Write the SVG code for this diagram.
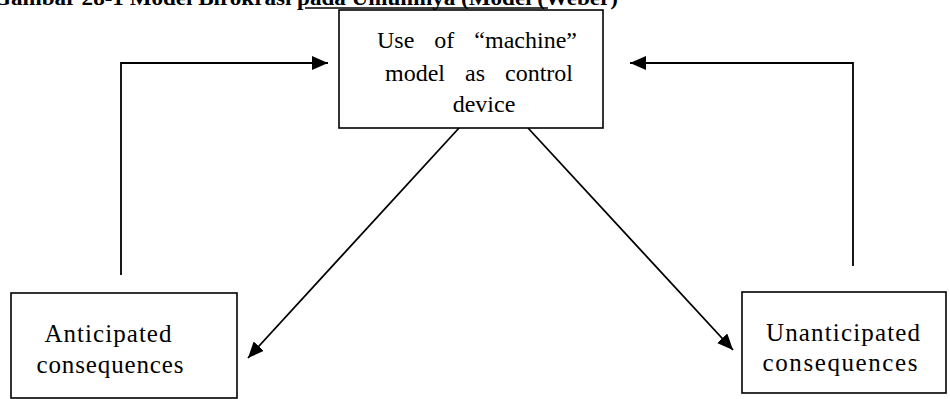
<svg xmlns="http://www.w3.org/2000/svg" width="950" height="399" viewBox="0 0 950 399">
<style>
.box{fill:#fff;stroke:#000;stroke-width:1.6}
.lbl{font-family:"Liberation Serif","Times New Roman",serif;font-size:24px;fill:#000;text-anchor:middle;word-spacing:14px}
.lbl2{font-family:"Liberation Serif","Times New Roman",serif;font-size:25px;fill:#000;text-anchor:middle}
.title{font-family:"Liberation Serif","Times New Roman",serif;font-size:21px;font-weight:bold;fill:#000}
.conn{fill:none;stroke:#000;stroke-width:1.8}
</style>
<defs>
<marker id="ah" viewBox="0 0 16 14" refX="16" refY="7" markerWidth="16" markerHeight="14" markerUnits="userSpaceOnUse" orient="auto">
<path d="M0,0 L16,7 L0,14 Z" fill="#000"/>
</marker>
</defs>
<rect width="950" height="399" fill="#fff"/>
<g id="title">
<text class="title" x="-7" y="5" textLength="625" lengthAdjust="spacingAndGlyphs">Gambar 28-1 Model Birokrasi pada Umumnya (Model (Weber)</text>
<line x1="305" y1="8" x2="548" y2="8" stroke="#000" stroke-width="1.5"/>
</g>
<g id="connectors">
<polyline class="conn" points="121,275 121,63 328,63" marker-end="url(#ah)"/>
<polyline class="conn" points="853,266 853,63 630,63" marker-end="url(#ah)"/>
<line class="conn" x1="459" y1="128" x2="248" y2="358" marker-end="url(#ah)"/>
<line class="conn" x1="528" y1="128" x2="733" y2="350" marker-end="url(#ah)"/>
</g>
<g id="node-machine">
<rect class="box" x="339" y="10" width="264" height="118"/>
<text class="lbl" x="477" y="48">Use of “machine”</text>
<text class="lbl" x="479" y="81">model as control</text>
<text class="lbl" x="484" y="112">device</text>
</g>
<g id="node-anticipated">
<rect class="box" x="11" y="293" width="226" height="105"/>
<text class="lbl2" x="108" y="342" textLength="127" lengthAdjust="spacing">Anticipated</text>
<text class="lbl2" x="110" y="373" textLength="147" lengthAdjust="spacing">consequences</text>
</g>
<g id="node-unanticipated">
<rect class="box" x="742" y="292" width="204" height="101"/>
<text class="lbl2" x="843" y="341" textLength="154" lengthAdjust="spacing">Unanticipated</text>
<text class="lbl2" x="840" y="371" textLength="155" lengthAdjust="spacing">consequences</text>
</g>
</svg>
